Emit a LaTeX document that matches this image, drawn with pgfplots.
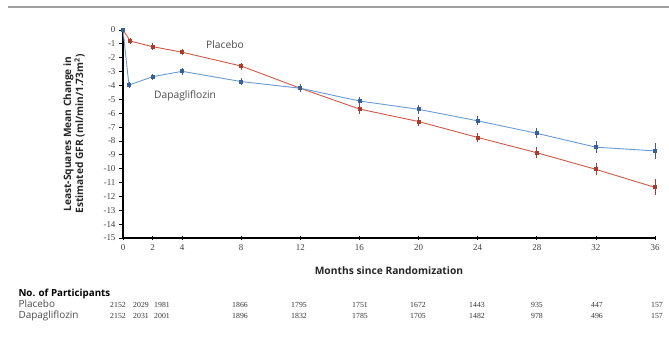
\documentclass[border=0pt]{standalone}
\usepackage{pgfplots}
\pgfplotsset{compat=1.18}
\usepackage{fontspec}
\setmainfont{Open Sans}
\newfontfamily\numfont{Liberation Serif}
\definecolor{redline}{RGB}{205,90,70}
\definecolor{redmark}{RGB}{170,60,45}
\definecolor{blueline}{RGB}{105,155,210}
\definecolor{bluemark}{RGB}{60,95,150}
\begin{document}
\begin{tikzpicture}[x=1bp,y=1bp]
\useasboundingbox (0,0) rectangle (669,337);
\draw[gray!75, line width=2.2bp] (8,330) -- (669,330);
\begin{axis}[
  at={(123bp,99bp)}, anchor=south west,
  scale only axis, width=532bp, height=208bp,
  xmin=0, xmax=36, ymin=-15, ymax=0,
  axis x line*=bottom, axis y line*=left,
  axis line style={line width=1.2bp, black},
  xtick={0,2,4,8,12,16,20,24,28,32,36},
  ytick={-15,-14,...,0},
  x tick style={line width=0.8bp, black}, y tick style={line width=0.8bp, black},
  xtick align=center, ytick align=outside,
  major tick length=4bp,
  tick label style={font=\numfont\fontsize{9}{10}\selectfont, text=black!75},
  /pgf/number format/assume math mode=true,
  xticklabel style={yshift=-1bp},
  xlabel={Months since Randomization},
  xlabel style={at={(axis description cs:0.5,-0.155)}, anchor=center, font=\bfseries\fontsize{10.3}{11}\selectfont, text=black!85},
  ylabel={Least-Squares Mean Change in\\Estimated GFR (ml/min/1.73m\textsuperscript{2})},
  ylabel style={at={(axis description cs:-0.092,0.5)}, anchor=center, align=center, font=\bfseries\fontsize{10.2}{11}\selectfont, text=black!85},
  clip=false,
]
\addplot[color=redline, line width=0.9bp, mark=square*, mark size=1.5bp,
  mark options={fill=redmark, draw=redmark},
  error bars/.cd, y dir=both, y explicit,
  error bar style={line width=0.6bp, color=redmark}, error mark options={line width=0.6bp, mark size=1.8bp, color=redmark}]
coordinates {
(0,0) +- (0,0)
(0.5,-0.8) +- (0,0.08)
(2,-1.2) +- (0,0.1)
(4,-1.6) +- (0,0.1)
(8,-2.6) +- (0,0.12)
(12,-4.2) +- (0,0.15)
(16,-5.7) +- (0,0.2)
(20,-6.6) +- (0,0.18)
(24,-7.75) +- (0,0.2)
(28,-8.85) +- (0,0.25)
(32,-10.05) +- (0,0.3)
(36,-11.35) +- (0,0.45)
};
\addplot[color=blueline, line width=0.9bp, mark=square*, mark size=1.5bp,
  mark options={fill=bluemark, draw=bluemark},
  error bars/.cd, y dir=both, y explicit,
  error bar style={line width=0.6bp, color=bluemark}, error mark options={line width=0.6bp, mark size=1.8bp, color=bluemark}]
coordinates {
(0,0) +- (0,0)
(0.4,-3.97) +- (0,0.08)
(2,-3.37) +- (0,0.1)
(4,-2.98) +- (0,0.1)
(8,-3.72) +- (0,0.12)
(12,-4.2) +- (0,0.15)
(16,-5.12) +- (0,0.18)
(20,-5.72) +- (0,0.18)
(24,-6.55) +- (0,0.2)
(28,-7.45) +- (0,0.22)
(32,-8.45) +- (0,0.3)
(36,-8.72) +- (0,0.45)
};
\node[font=\fontsize{10.3}{11}\selectfont, text=black!70] at (axis cs:6.9,-1.05) {Placebo};
\node[font=\fontsize{10.3}{11}\selectfont, text=black!70] at (axis cs:4.2,-4.75) {Dapagliflozin};
\end{axis}
\node[anchor=base west, font=\bfseries\fontsize{9.8}{10}\selectfont] at (15,41) {No. of Participants};
\node[anchor=base west, font=\fontsize{10}{10}\selectfont, text=black!70] at (15,30) {Placebo};
\node[anchor=base west, font=\fontsize{10}{10}\selectfont, text=black!70] at (15,19) {Dapagliflozin};
\foreach \x/\a/\b in {118/2152/2152, 141/2029/2031, 162/1981/2001, 240/1866/1896, 299/1795/1832, 360/1751/1785, 418/1672/1705, 477/1443/1482, 537/935/978, 597/447/496, 657/157/157} {
  \node[anchor=base, font=\numfont\fontsize{7.8}{8}\selectfont, text=black!80] at (\x,30) {\a};
  \node[anchor=base, font=\numfont\fontsize{7.8}{8}\selectfont, text=black!80] at (\x,19) {\b};
}
\end{tikzpicture}
\end{document}
